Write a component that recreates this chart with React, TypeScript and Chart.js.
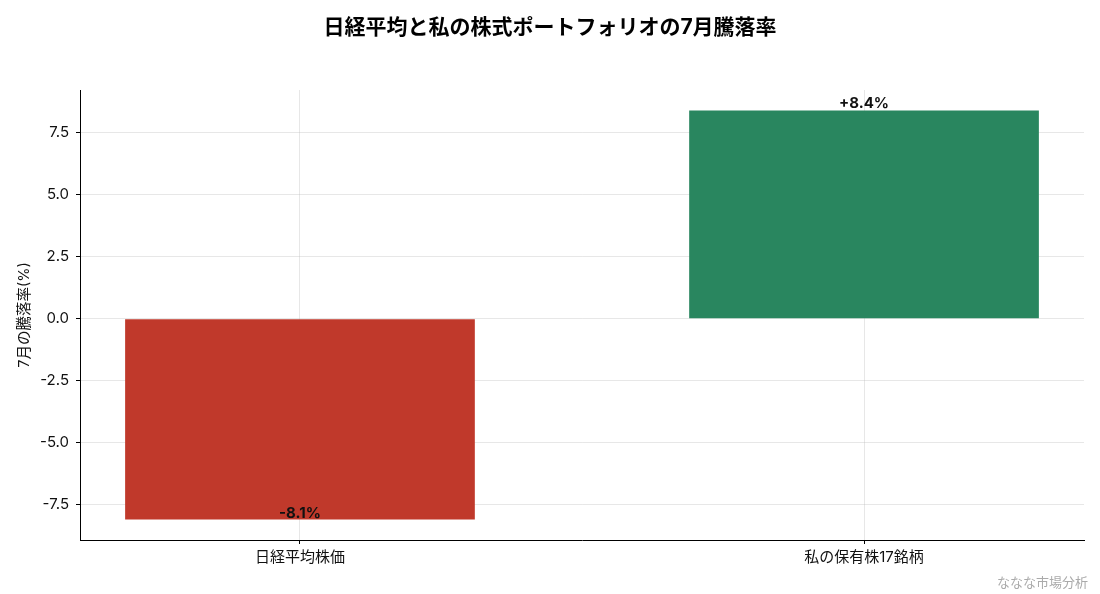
import { useEffect, useRef } from 'react';
import { Chart, registerables, ChartConfiguration, Plugin } from 'chart.js';

Chart.register(...registerables);

const FONT = 'Inter, "Noto Sans CJK JP", sans-serif';

const categories = ['日経平均株価', '私の保有株17銘柄'];
const changes = [-8.1, 8.4];
const barColors = ['#c0392b', '#29865f'];
const yTicks = [-7.5, -5.0, -2.5, 0.0, 2.5, 5.0, 7.5];

const titleText = '日経平均と私の株式ポートフォリオの7月騰落率';
const yTitle = '7月の騰落率(%)';
const footerText = 'ななな市場分析';

// title, y-axis title, value labels and footer drawn by hand
const decorations: Plugin = {
  id: 'decorations',
  afterDatasetsDraw(chart) {
    const { ctx, chartArea } = chart;
    const y = chart.scales.y;
    const x = chart.scales.x;
    ctx.save();

    // value labels
    ctx.font = `bold 15px ${FONT}`;
    ctx.fillStyle = '#111';
    ctx.textAlign = 'center';
    ctx.textBaseline = 'bottom';
    changes.forEach((v, i) => {
      const label = (v > 0 ? '+' : '') + v.toFixed(1) + '%';
      ctx.fillText(label, x.getPixelForValue(i), y.getPixelForValue(v) + 1);
    });

    // title
    ctx.font = `bold 21px ${FONT}`;
    ctx.fillStyle = '#000';
    ctx.textBaseline = 'middle';
    ctx.fillText(titleText, chart.width / 2, 28);

    // y axis title
    ctx.font = `14.5px ${FONT}`;
    ctx.fillStyle = '#111';
    ctx.translate(25, (chartArea.top + chartArea.bottom) / 2);
    ctx.rotate(-Math.PI / 2);
    ctx.fillText(yTitle, 0, 0);
    ctx.restore();

    ctx.save();
    ctx.font = `13px ${FONT}`;
    ctx.fillStyle = '#aaa';
    ctx.textAlign = 'right';
    ctx.textBaseline = 'middle';
    ctx.fillText(footerText, 1088, 583);
    ctx.restore();
  },
};

export default function App() {
  const canvasRef = useRef<HTMLCanvasElement>(null);
  const chartRef = useRef<Chart | null>(null);

  useEffect(() => {
    document.body.style.margin = '0';
    if (!canvasRef.current) return;
    if (chartRef.current) chartRef.current.destroy();

    const config: ChartConfiguration<'bar'> = {
      type: 'bar',
      data: {
        datasets: [{
          data: changes.map((v, i) => ({ x: i, y: v })) as any,
          backgroundColor: barColors,
          borderWidth: 0,
          barPercentage: 0.62,
          categoryPercentage: 1,
        }],
      },
      options: {
        animation: false,
        responsive: false,
        layout: { padding: { top: 90, right: 16, left: 0, bottom: 0 } },
        plugins: {
          legend: { display: false },
          title: { display: false },
          tooltip: { enabled: false },
        },
        scales: {
          x: {
            type: 'linear',
            min: -0.39,
            max: 1.39,
            offset: false,
            z: 1,
            afterBuildTicks: (scale) => {
              scale.ticks = categories.map((_, i) => ({ value: i }));
            },
            afterFit: (scale) => {
              scale.height = 54;
            },
            grid: {
              offset: false,
              color: 'rgba(176,176,176,0.3)',
              tickColor: '#000',
              tickLength: 4,
            },
            border: { display: true, color: '#000', width: 1 },
            ticks: {
              color: '#111',
              font: { family: FONT, size: 15 },
              padding: 4,
              callback: (v) => categories[Number(v)] ?? '',
            },
          },
          y: {
            type: 'linear',
            min: -8.925,
            max: 9.225,
            z: 1,
            afterBuildTicks: (scale) => {
              scale.ticks = yTicks.map((v) => ({ value: v }));
            },
            afterFit: (scale) => {
              scale.width = 80;
            },
            grid: {
              color: 'rgba(176,176,176,0.3)',
              tickColor: '#000',
              tickLength: 4,
            },
            border: { display: true, color: '#000', width: 1 },
            ticks: {
              color: '#111',
              font: { family: FONT, size: 15 },
              padding: 7,
              callback: (v) => Number(v).toFixed(1),
            },
          },
        },
      },
      plugins: [decorations],
    };

    chartRef.current = new Chart(canvasRef.current, config);
    return () => {
      if (chartRef.current) {
        chartRef.current.destroy();
        chartRef.current = null;
      }
    };
  }, []);

  return (
    <div style={{ width: 1100, height: 594, background: '#fff' }}>
      <canvas ref={canvasRef} width={1100} height={594} style={{ width: 1100, height: 594 }} />
    </div>
  );
}
